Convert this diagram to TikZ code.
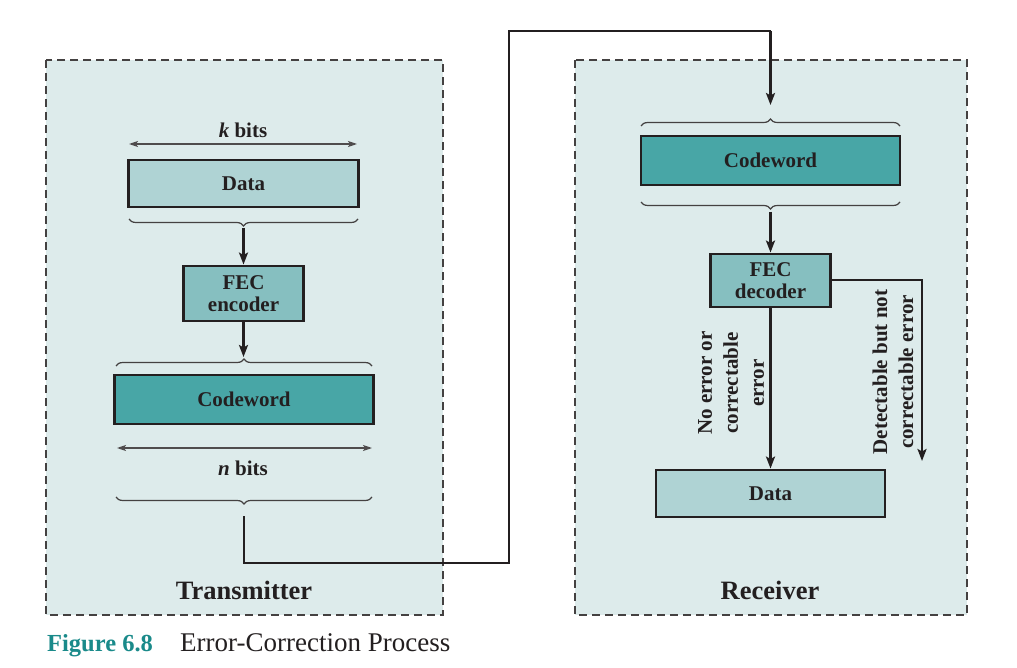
\documentclass[tikz,border=0pt]{standalone}
\usepackage{fontspec}
\setmainfont{Liberation Serif}
\usetikzlibrary{arrows.meta,decorations.pathreplacing}
\definecolor{panel}{HTML}{DDEBEB}
\definecolor{datafill}{HTML}{AFD3D4}
\definecolor{fecfill}{HTML}{86BFC0}
\definecolor{cwfill}{HTML}{48A6A6}
\definecolor{capteal}{HTML}{1A8A8A}
\definecolor{ink}{HTML}{231F20}
\begin{document}
\begin{tikzpicture}[x=1pt,y=-1pt,
  panelbox/.style={draw=ink!85, fill=panel, dash pattern=on 8pt off 5pt, line width=1.3pt},
  blk/.style={draw=ink, line width=2.9pt, inner sep=0pt, text=ink,
    font=\fontsize{21}{24}\selectfont\bfseries, align=center},
  lbl/.style={text=ink, font=\fontsize{21}{26}\selectfont\bfseries, align=center, inner sep=0pt},
  title/.style={text=ink, font=\fontsize{26.5}{30}\selectfont\bfseries, inner sep=0pt},
  flow/.style={draw=ink, line width=2.9pt, -{Stealth[length=12pt,width=9pt,inset=2.5pt]}},
  wire/.style={draw=ink, line width=2.9pt},
  dim/.style={draw=ink!80, line width=1.3pt, {Stealth[length=9pt,width=6pt,inset=2pt]}-{Stealth[length=9pt,width=6pt,inset=2pt]}},
  brc/.style={draw=ink!85, line width=1.2pt, decorate, decoration={brace, amplitude=7pt}}
]
\useasboundingbox (0,0) rectangle (1017,668);
% panels
\path[panelbox] (46,60) rectangle (443,615);
\path[panelbox] (575,60) rectangle (967,615);

% ---------- Transmitter ----------
\node[lbl] (kbits) at (243,130) {\textit{k} bits};
\coordinate (ka) at (129,144);
\coordinate (kb) at (357,144);
\draw[dim] (ka) -- (kb);

\node[blk, fill=datafill, minimum width=230pt, minimum height=47pt] (tdata) at (243.5,183.5) {Data};
\draw[brc] (358,219) -- (129,219);
\coordinate (tdatatip) at (243.5,228);

\node[blk, fill=fecfill, minimum width=120pt, minimum height=55pt] (enc) at (243.5,293.5) {FEC\\[-2pt]encoder};
\draw[flow] (tdatatip) -- (enc.north);

\draw[brc] (116,366) -- (372,366);
\coordinate (tcwtip) at (243.5,357);
\draw[flow] (enc.south) -- (tcwtip);

\node[blk, fill=cwfill, minimum width=259pt, minimum height=49pt] (tcw) at (244,399.5) {Codeword};

\coordinate (na) at (117,448);
\coordinate (nb) at (372,448);
\draw[dim] (na) -- (nb);
\node[lbl] (nbits) at (243,468) {\textit{n} bits};

\draw[brc] (372,497) -- (116,497);
\coordinate (txout) at (244,516);
\coordinate (c1) at (509,563);
\coordinate (c2) at (770.5,31);
\coordinate (rxin) at (770.5,105);
\draw[wire] (txout) |- (c1) |- (c2);
\draw[flow] (c2) -- (rxin);

\node[title, anchor=base] (tx) at (244,599) {Transmitter};

% ---------- Receiver ----------
\draw[brc] (641,126) -- (900,126);
\node[blk, fill=cwfill, minimum width=259pt, minimum height=49pt] (rcw) at (770.5,160.5) {Codeword};
\draw[brc] (900,202) -- (641,202);
\coordinate (rcwtip) at (770.5,212);

\node[blk, fill=fecfill, minimum width=120pt, minimum height=53pt] (dec) at (770.5,280.5) {FEC\\[-2pt]decoder};
\draw[flow] (rcwtip) -- (dec.north);

\node[blk, fill=datafill, minimum width=229pt, minimum height=47pt] (rdata) at (770.5,493.5) {Data};
\draw[flow] (dec.south) -- (rdata.north);

\coordinate (bend) at (922,280);
\coordinate (rej) at (922,461);
\draw[flow] (dec.east |- bend) -- (bend) -- (rej);

\node[lbl, rotate=90] (okl) at (731,383) {No error or\\correctable\\error};
\node[lbl, rotate=90] (bad) at (893,372) {Detectable but not\\correctable error};

\node[title, anchor=base] (rx) at (770,599) {Receiver};

% caption
\node[anchor=base west, inner sep=0pt, text=capteal, font=\fontsize{24.5}{28}\selectfont\bfseries] (fig) at (47,651) {Figure 6.8};
\node[anchor=base west, inner sep=0pt, text=ink, font=\fontsize{27}{30}\selectfont] (cap) at (180,651) {Error-Correction Process};
\end{tikzpicture}
\end{document}
